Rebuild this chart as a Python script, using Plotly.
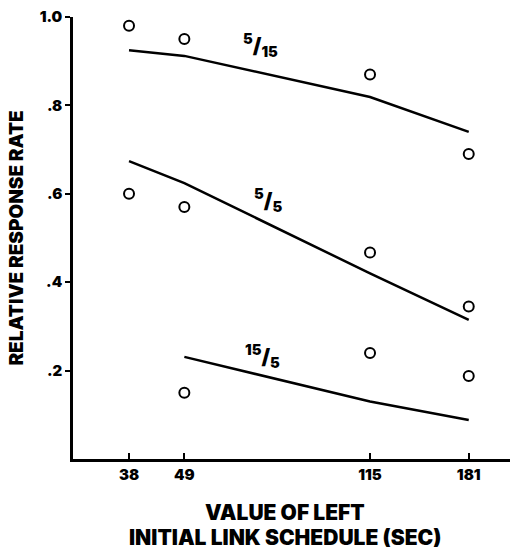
import plotly.graph_objects as go

schedules = [38, 49, 115, 181]
tick_labels = ["38", "49", "115", "181"]

# obtained data (open circles)
obs_5_15 = [0.98, 0.95, 0.87, 0.69]
obs_5_5 = [0.60, 0.57, 0.467, 0.345]
x_15_5 = [49, 115, 181]
obs_15_5 = [0.15, 0.24, 0.188]

# predicted (lines)
pred_5_15 = [0.925, 0.912, 0.819, 0.74]
pred_5_5 = [0.674, 0.624, 0.42, 0.315]
pred_15_5 = [0.231, 0.13, 0.088]

y_ticks = [0.2, 0.4, 0.6, 0.8, 1.0]
y_tick_labels = [".2", ".4", ".6", ".8", "1.0"]

FONT = "Inter"
WT = 900
blk = "black"

fig = go.Figure()
line_style = dict(color=blk, width=2.5)
marker_style = dict(symbol="circle-open", size=10, color=blk, line=dict(width=2, color=blk))

for xs, ys in [(schedules, pred_5_15), (schedules, pred_5_5), (x_15_5, pred_15_5)]:
    fig.add_trace(go.Scatter(x=xs, y=ys, mode="lines", line=line_style, showlegend=False, hoverinfo="skip"))
for xs, ys in [(schedules, obs_5_15), (schedules, obs_5_5), (x_15_5, obs_15_5)]:
    fig.add_trace(go.Scatter(x=xs, y=ys, mode="markers", marker=marker_style, showlegend=False))

L, R, T, B = 73, 1, 17, 92
W, H = 511, 551
pw, ph = W - L - R, H - T - B

def px(xp, yp):
    return (xp - L) / pw, (H - B - yp) / ph

def f(size):
    return dict(family=FONT, size=size, color=blk, weight=WT)

annots = []
for txt, (xp, yp) in [("<sup>5</sup>/<sub>15</sub>", (260, 45)),
                      ("<sup>5</sup>/<sub>5</sub>", (268, 200)),
                      ("<sup>15</sup>/<sub>5</sub>", (262, 357))]:
    ax, ay = px(xp, yp)
    annots.append(dict(text=txt, x=ax, y=ay, xref="paper", yref="paper",
                       xanchor="center", yanchor="middle",
                       showarrow=False, font=f(21)))
for txt, yp in [("VALUE OF LEFT", 512), ("INITIAL LINK SCHEDULE (SEC)", 537)]:
    ax, ay = px(285, yp)
    annots.append(dict(text=txt, x=ax, y=ay, xref="paper", yref="paper",
                       xanchor="center", yanchor="middle",
                       showarrow=False, font=f(21)))

fig.update_layout(
    width=W, height=H,
    margin=dict(l=L, r=R, t=T, b=B),
    paper_bgcolor="white", plot_bgcolor="white",
    annotations=annots,
    xaxis=dict(type="log", range=[1.468, 2.340], tickvals=schedules, ticktext=tick_labels,
               showline=True, linecolor=blk, linewidth=2.5, ticks="inside", ticklen=6, tickwidth=2,
               tickcolor=blk, showgrid=False, zeroline=False, tickfont=f(15)),
    yaxis=dict(range=[0, 1.0], tickvals=y_ticks, ticktext=y_tick_labels,
               showline=True, linecolor=blk, linewidth=2.5, ticks="outside", ticklen=5, tickwidth=2,
               tickcolor=blk, showgrid=False, zeroline=False, tickfont=f(15),
               title=dict(text="RELATIVE RESPONSE RATE", font=f(19), standoff=12)),
)

fig.write_html("out.html")
